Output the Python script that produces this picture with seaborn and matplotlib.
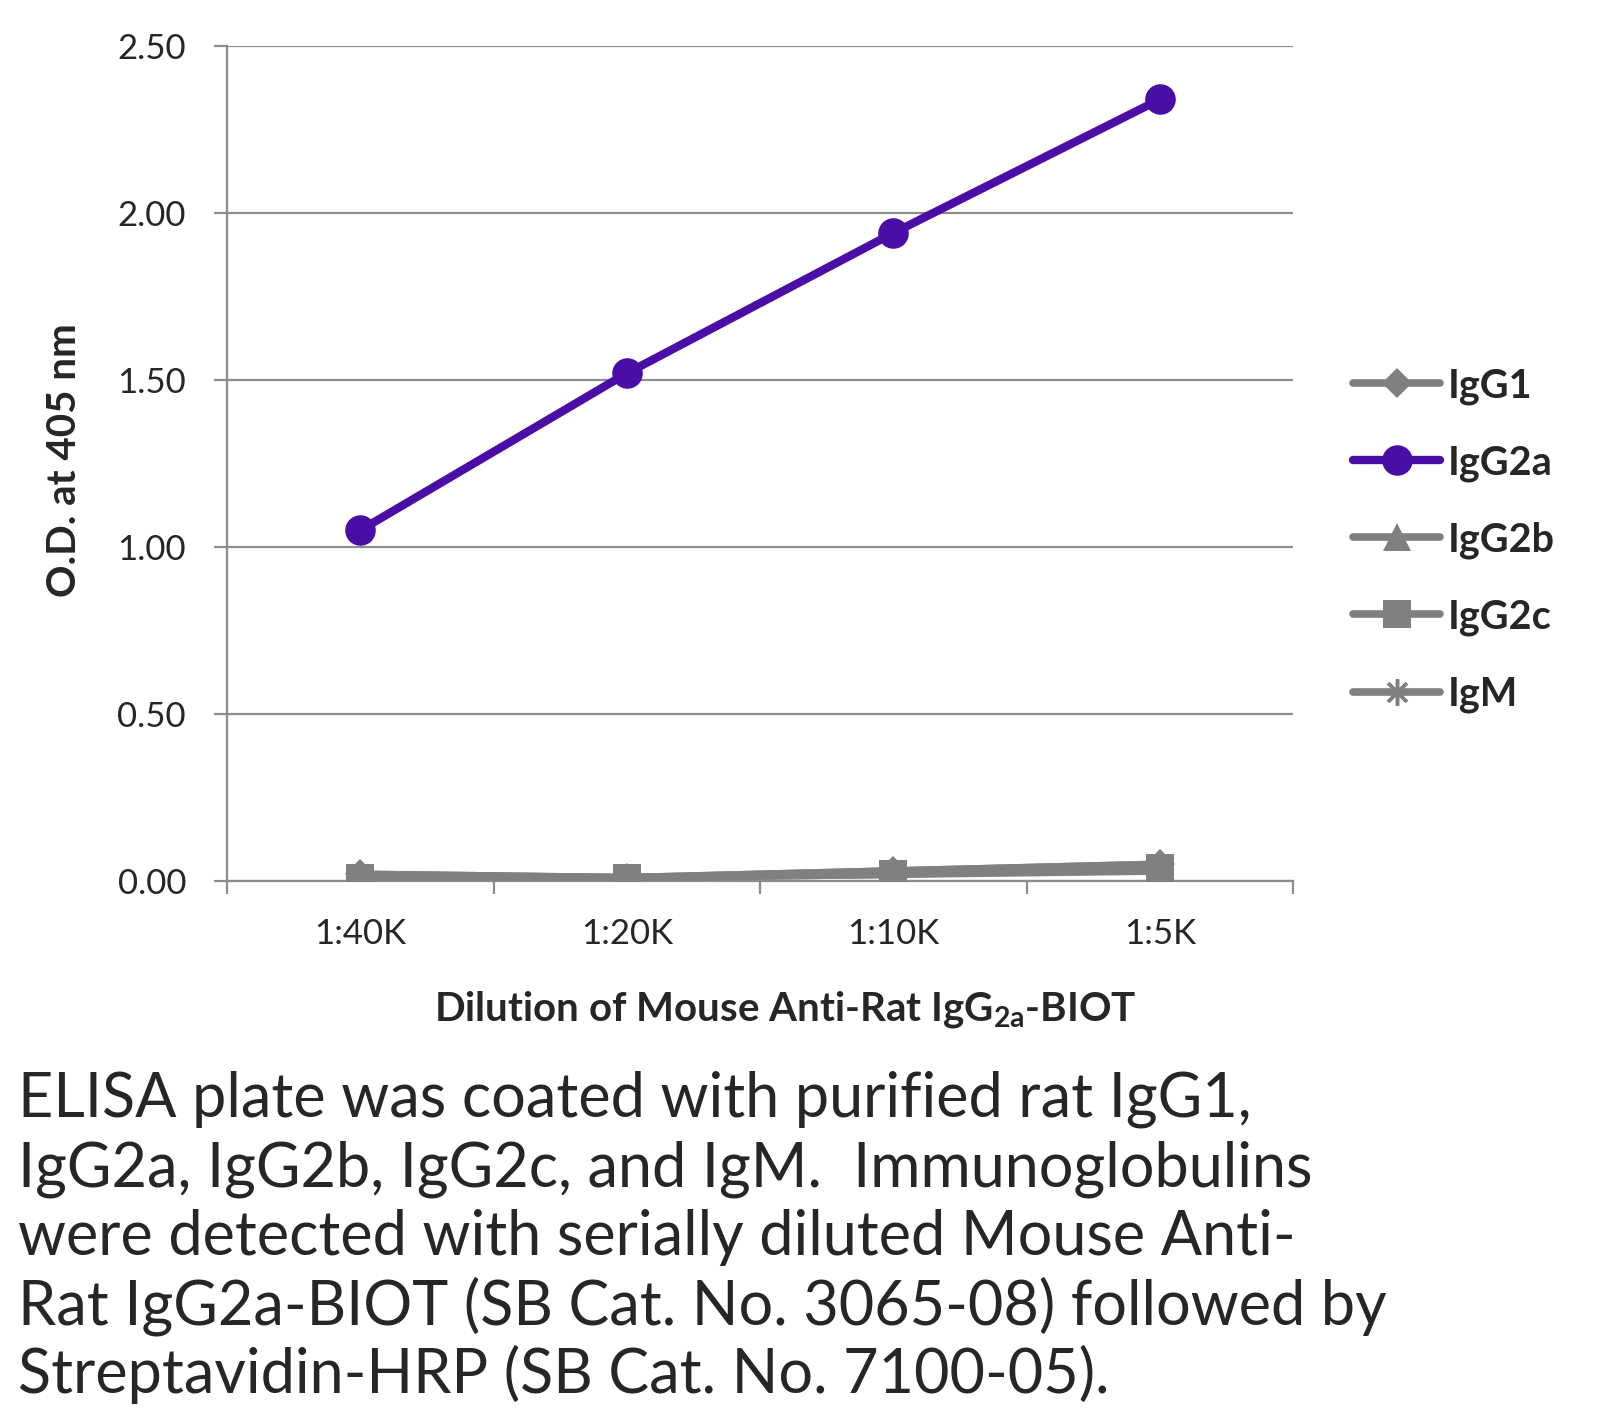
import matplotlib
matplotlib.use("Agg")
import matplotlib.pyplot as plt
import pandas as pd
import seaborn as sns
from matplotlib.ticker import FixedLocator, FormatStrFormatter

dilutions = ["1:40K", "1:20K", "1:10K", "1:5K"]
isotypes = ["IgG1", "IgG2a", "IgG2b", "IgG2c", "IgM"]
igg1 = [0.02, 0.01, 0.03, 0.05]
igg2a = [1.05, 1.52, 1.94, 2.34]
igg2b = [0.02, 0.01, 0.03, 0.05]
igg2c = [0.01, 0.01, 0.02, 0.04]
igm = [0.01, 0.01, 0.02, 0.03]
values = {"IgG1": igg1, "IgG2a": igg2a, "IgG2b": igg2b, "IgG2c": igg2c, "IgM": igm}

caption_lines = [
    "ELISA plate was coated with purified rat IgG1,",
    "IgG2a, IgG2b, IgG2c, and IgM.  Immunoglobulins",
    "were detected with serially diluted Mouse Anti-",
    "Rat IgG2a-BIOT (SB Cat. No. 3065-08) followed by",
    "Streptavidin-HRP (SB Cat. No. 7100-05).",
]

GRAY = "#808080"
PURPLE = "#4A0DA6"
GRID = "#8C8C8C"
colors = {"IgG1": GRAY, "IgG2a": PURPLE, "IgG2b": GRAY, "IgG2c": GRAY, "IgM": GRAY}
markers = {"IgG1": "D", "IgG2a": "o", "IgG2b": "^", "IgG2c": "s", "IgM": (8, 2, 0)}
msizes = {"IgG1": 15, "IgG2a": 22, "IgG2b": 20, "IgG2c": 20, "IgM": 19}

sns.set_style("white")
plt.rcParams["font.family"] = ["Lato", "DejaVu Sans"]

W, H = 1600, 1418
fig = plt.figure(figsize=(W / 100, H / 100), dpi=100)
ax = fig.add_axes([227 / W, 1 - 881 / H, (1293 - 227) / W, (881 - 46) / H])

draw_order = ["IgM", "IgG2c", "IgG2b", "IgG1", "IgG2a"]
for name in draw_order:
    df = pd.DataFrame({"Dilution": dilutions, "OD": values[name]})
    sns.lineplot(
        data=df, x="Dilution", y="OD", ax=ax, color=colors[name],
        marker=markers[name], markersize=msizes[name],
        markeredgecolor=colors[name], markeredgewidth=2.5 if name == "IgM" else 0,
        linewidth=6 if name == "IgG2a" else 5.5, label=name,
        solid_capstyle="round", zorder=5 if name == "IgG2a" else 4,
    )

ax.set_xlim(-0.5, 3.5)
ax.set_ylim(0, 2.5)
ax.yaxis.set_major_locator(FixedLocator([0, 0.5, 1.0, 1.5, 2.0, 2.5]))
ax.yaxis.set_major_formatter(FormatStrFormatter("%.2f"))
ax.xaxis.set_minor_locator(FixedLocator([-0.5, 0.5, 1.5, 2.5, 3.5]))
ax.grid(axis="y", color=GRID, linewidth=1.6)
ax.set_axisbelow(True)
for side in ["top", "right"]:
    ax.spines[side].set_visible(False)
for side in ["left", "bottom"]:
    ax.spines[side].set_color(GRID)
    ax.spines[side].set_linewidth(1.6)
ax.tick_params(axis="y", which="major", length=9.5, width=1.6, color=GRID,
               labelsize=25, pad=20, left=True)
ax.tick_params(axis="x", which="major", length=0, labelsize=25, pad=27)
ax.tick_params(axis="x", which="minor", length=9, width=1.6, color=GRID, bottom=True)
ax.set_xlabel("")
ax.set_ylabel("")

handles, labels = ax.get_legend_handles_labels()
lookup = dict(zip(labels, handles))
leg = ax.legend(
    [lookup[n] for n in isotypes], isotypes,
    loc="center left", bbox_to_anchor=(1353 / W, 1 - 540 / H),
    bbox_transform=fig.transFigure, frameon=False, borderpad=0, borderaxespad=0,
    handlelength=2.2, handletextpad=0.2, labelspacing=1.0,
    prop={"weight": "bold", "size": 28.5},
)

fig.text(64 / W, 1 - 460 / H, "O.D. at 405 nm", rotation=90, ha="center", va="center",
         fontsize=29, fontweight="bold")
fig.text(785 / W, 1 - 1020 / H, r"Dilution of Mouse Anti-Rat IgG$\mathregular{_{2a}}$-BIOT",
         ha="center", va="baseline", fontsize=29, fontweight="bold")

baseline = 1117
for line in caption_lines:
    fig.text(18 / W, 1 - baseline / H, line, ha="left", va="baseline", fontsize=44)
    baseline += 69

fig.savefig("out.png", dpi=100)
